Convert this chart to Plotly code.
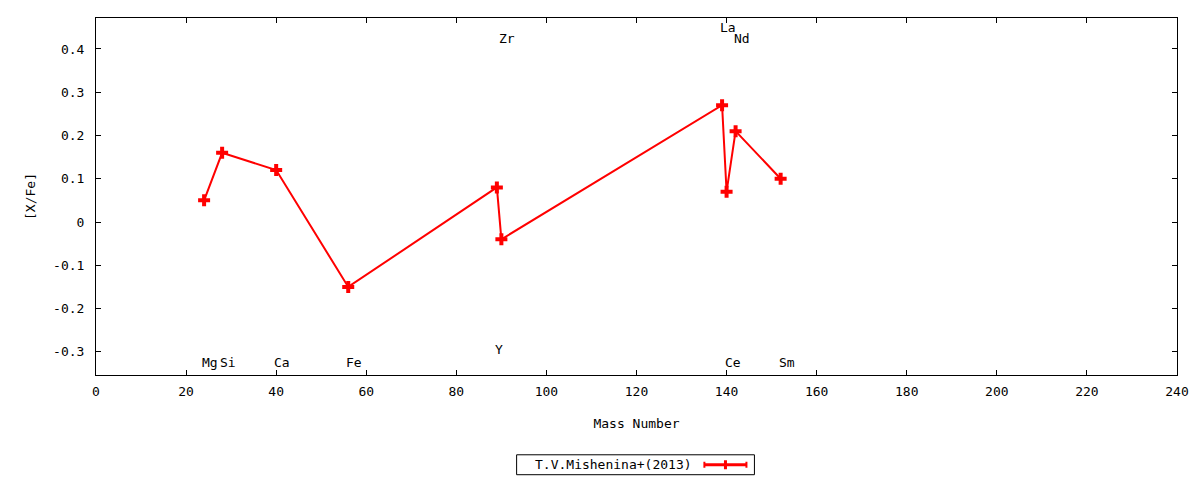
import plotly.graph_objects as go

# ---- data ----
elements = ["Mg", "Si", "Ca", "Fe", "Y", "Zr", "La", "Ce", "Nd", "Sm"]
mass_number = [24, 28, 40, 56, 89, 90, 139, 140, 142, 152]
x_fe = [0.05, 0.16, 0.12, -0.15, 0.08, -0.04, 0.27, 0.07, 0.21, 0.10]
label_y = [-0.325, -0.325, -0.325, -0.325, -0.295, 0.425, 0.45, -0.325, 0.425, -0.325]

series_name = "T.V.Mishenina+(2013)"
x_ticks = list(range(0, 241, 20))
y_tick_vals = [-0.3, -0.2, -0.1, 0, 0.1, 0.2, 0.3, 0.4]
y_tick_text = ["-0.3", "-0.2", "-0.1", "0", "0.1", "0.2", "0.3", "0.4"]

FONT = "DejaVu Sans Mono"
RED = "#ff0000"

fig = go.Figure()
fig.add_trace(go.Scatter(
    x=mass_number, y=x_fe, mode="lines+markers", name=series_name,
    line=dict(color=RED, width=2),
    marker=dict(symbol="cross", size=10, color=RED),
    showlegend=False,
))

annotations = []
for el, mx, ly in zip(elements, mass_number, label_y):
    annotations.append(dict(
        x=mx, y=ly, xref="x", yref="y", text=el, showarrow=False,
        xanchor="left", yanchor="middle", xshift=-4,
        font=dict(family=FONT, size=13, color="black"),
    ))

# legend (gnuplot style: text then sample)
annotations.append(dict(
    x=0.4040, y=-0.2514, xref="paper", yref="paper", text=series_name,
    showarrow=False, xanchor="left", yanchor="middle",
    font=dict(family=FONT, size=13, color="black"),
))

shapes = [
    dict(type="rect", xref="paper", yref="paper", x0=0.3891, x1=0.6091,
         y0=-0.2793, y1=-0.2235, line=dict(color="black", width=1)),
    dict(type="line", xref="paper", yref="paper", x0=0.5628, x1=0.6017,
         y0=-0.2514, y1=-0.2514, line=dict(color=RED, width=3)),
    dict(type="line", xref="paper", yref="paper", x0=0.5628, x1=0.5628,
         y0=-0.2598, y1=-0.2430, line=dict(color=RED, width=2)),
    dict(type="line", xref="paper", yref="paper", x0=0.6017, x1=0.6017,
         y0=-0.2598, y1=-0.2430, line=dict(color=RED, width=2)),
    dict(type="line", xref="paper", yref="paper", x0=0.5823, x1=0.5823,
         y0=-0.2640, y1=-0.2388, line=dict(color=RED, width=3)),
]

fig.update_layout(
    width=1200, height=480,
    margin=dict(l=88, r=31, t=10, b=113),
    paper_bgcolor="white", plot_bgcolor="white",
    font=dict(family=FONT, size=13, color="black"),
    annotations=annotations, shapes=shapes,
    showlegend=False,
)
fig.update_xaxes(
    range=[0, 240], tickvals=x_ticks, ticks="inside", ticklen=5,
    tickcolor="black", showline=True, linecolor="black", linewidth=1,
    mirror="ticks", showgrid=False, zeroline=False,
    ticklabelstandoff=4,
    title=dict(text="Mass Number", standoff=21, font=dict(family=FONT, size=13)),
)
fig.update_yaxes(
    range=[-0.3536, 0.4715], tickvals=y_tick_vals, ticktext=y_tick_text,
    ticks="inside", ticklen=5, tickcolor="black", showline=True,
    linecolor="black", linewidth=1, mirror="ticks", showgrid=False,
    zeroline=False, ticklabelstandoff=8,
    title=dict(text="[X/Fe]", standoff=14, font=dict(family=FONT, size=13)),
)

fig.write_html("out.html")
